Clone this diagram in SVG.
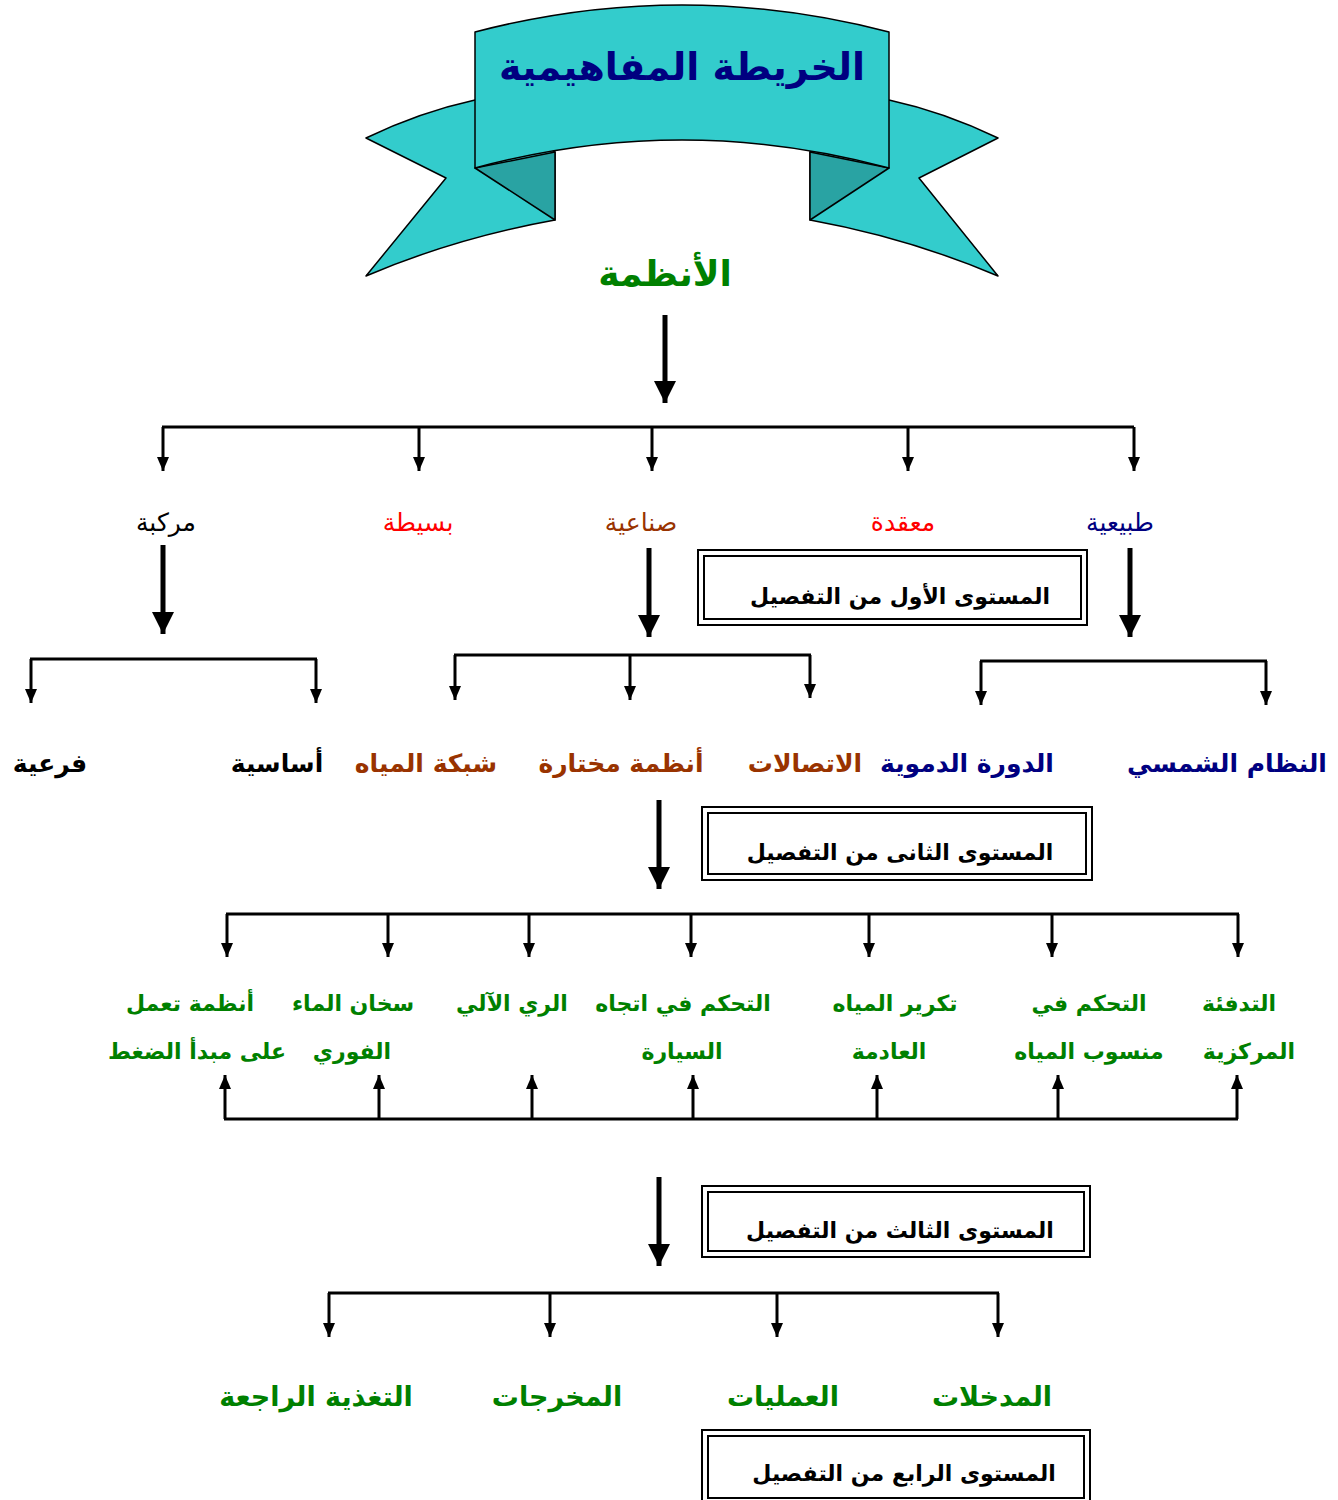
<svg xmlns="http://www.w3.org/2000/svg" width="1338" height="1500" viewBox="0 0 1338 1500">
<defs>
<style>
.t{font-family:"DejaVu Sans","Noto Sans",sans-serif;text-anchor:middle;direction:rtl}
.b{font-weight:bold}
.ln{stroke:#000;stroke-width:3;fill:none}
.ar{stroke:#000;stroke-width:3;fill:none;marker-end:url(#ah)}
.ak{stroke:#000;stroke-width:5;fill:none;marker-end:url(#ahk)}
.box{fill:#fff;stroke:#000;stroke-width:2}
.box2{fill:none;stroke:#000;stroke-width:2}
.rib{fill:#33CCCC;stroke:#000;stroke-width:1.5;stroke-linejoin:round}
.fold{fill:#29A3A3;stroke:#000;stroke-width:1.5;stroke-linejoin:round}
.g{fill:#008000}
.n{fill:#000080}
.br{fill:#993300}
.r{fill:#FF0000}
.k{fill:#000}
</style>
<marker id="ah" viewBox="0 0 14 12" refX="14" refY="6" markerWidth="14" markerHeight="12" markerUnits="userSpaceOnUse" orient="auto">
<path d="M0,0 L14,6 L0,12 Z" fill="#000"/>
</marker>
<marker id="ahk" viewBox="0 0 22 22" refX="22" refY="11" markerWidth="22" markerHeight="22" markerUnits="userSpaceOnUse" orient="auto">
<path d="M0,0 L22,11 L0,22 Z" fill="#000"/>
</marker>
</defs>
<rect width="1338" height="1500" fill="#fff"/>

<g id="banner">
<path class="rib" d="M475,100 Q420,112 366,138 L446,178 L366,276 Q455,238 555,220 L555,152 Z"/>
<path class="rib" d="M889,100 Q944,112 998,138 L919,178 L998,276 Q909,238 810,220 L810,152 Z"/>
<path class="fold" d="M475,168 L555,220 L555,152 Z"/>
<path class="fold" d="M889,168 L810,220 L810,152 Z"/>
<path class="rib" d="M475,32 Q682,-22 889,32 L889,168 Q682,112 475,168 Z"/>
<text class="t b n" x="682" y="80" font-size="38">الخريطة المفاهيمية</text>
</g>

<g id="root"><text class="t b g" x="665" y="286" font-size="36">الأنظمة</text></g>

<g id="connectors">
<line class="ak" x1="665" y1="315" x2="665" y2="403"/>
<line class="ln" x1="162" y1="427" x2="1134" y2="427"/>
<line class="ar" x1="163" y1="427" x2="163" y2="471"/>
<line class="ar" x1="419" y1="427" x2="419" y2="471"/>
<line class="ar" x1="652" y1="427" x2="652" y2="471"/>
<line class="ar" x1="908" y1="427" x2="908" y2="471"/>
<line class="ar" x1="1134" y1="427" x2="1134" y2="471"/>

<line class="ak" x1="163" y1="545" x2="163" y2="634"/>
<line class="ak" x1="649" y1="548" x2="649" y2="637"/>
<line class="ak" x1="1130" y1="548" x2="1130" y2="637"/>

<line class="ln" x1="30" y1="659" x2="317" y2="659"/>
<line class="ar" x1="31" y1="659" x2="31" y2="703"/>
<line class="ar" x1="316" y1="659" x2="316" y2="703"/>
<line class="ln" x1="454" y1="655" x2="811" y2="655"/>
<line class="ar" x1="455" y1="655" x2="455" y2="700"/>
<line class="ar" x1="630" y1="655" x2="630" y2="700"/>
<line class="ar" x1="810" y1="655" x2="810" y2="698"/>
<line class="ln" x1="980" y1="661" x2="1267" y2="661"/>
<line class="ar" x1="981" y1="661" x2="981" y2="705"/>
<line class="ar" x1="1266" y1="661" x2="1266" y2="705"/>

<line class="ak" x1="659" y1="800" x2="659" y2="889"/>

<line class="ln" x1="226" y1="914" x2="1239" y2="914"/>
<line class="ar" x1="227" y1="914" x2="227" y2="957"/>
<line class="ar" x1="388" y1="914" x2="388" y2="957"/>
<line class="ar" x1="529" y1="914" x2="529" y2="957"/>
<line class="ar" x1="691" y1="914" x2="691" y2="957"/>
<line class="ar" x1="869" y1="914" x2="869" y2="957"/>
<line class="ar" x1="1052" y1="914" x2="1052" y2="957"/>
<line class="ar" x1="1238" y1="914" x2="1238" y2="957"/>

<line class="ln" x1="224" y1="1119" x2="1238" y2="1119"/>
<line class="ar" x1="225" y1="1119" x2="225" y2="1075"/>
<line class="ar" x1="379" y1="1119" x2="379" y2="1075"/>
<line class="ar" x1="532" y1="1119" x2="532" y2="1075"/>
<line class="ar" x1="693" y1="1119" x2="693" y2="1075"/>
<line class="ar" x1="877" y1="1119" x2="877" y2="1075"/>
<line class="ar" x1="1058" y1="1119" x2="1058" y2="1075"/>
<line class="ar" x1="1237" y1="1119" x2="1237" y2="1075"/>

<line class="ak" x1="659" y1="1177" x2="659" y2="1266"/>

<line class="ln" x1="328" y1="1293" x2="999" y2="1293"/>
<line class="ar" x1="329" y1="1293" x2="329" y2="1337"/>
<line class="ar" x1="550" y1="1293" x2="550" y2="1337"/>
<line class="ar" x1="777" y1="1293" x2="777" y2="1337"/>
<line class="ar" x1="998" y1="1293" x2="998" y2="1337"/>
</g>

<g id="level1">
<text class="t k" x="166" y="531" font-size="25">مركبة</text>
<text class="t r" x="418" y="531" font-size="25">بسيطة</text>
<text class="t br" x="641" y="531" font-size="25">صناعية</text>
<text class="t r" x="903" y="531" font-size="25">معقدة</text>
<text class="t n" x="1120" y="531" font-size="25">طبيعية</text>
</g>

<g id="box1">
<rect class="box" x="698" y="550" width="389" height="75"/>
<rect class="box2" x="704" y="556" width="377" height="63"/>
<text class="t b k" x="900" y="604" font-size="22">المستوى الأول من التفصيل</text>
</g>

<g id="level2">
<text class="t b k" x="50" y="772" font-size="25">فرعية</text>
<text class="t b k" x="277" y="772" font-size="25">أساسية</text>
<text class="t b br" x="426" y="772" font-size="25">شبكة المياه</text>
<text class="t b br" x="621" y="772" font-size="25">أنظمة مختارة</text>
<text class="t b br" x="805" y="772" font-size="25">الاتصالات</text>
<text class="t b n" x="967" y="772" font-size="25">الدورة الدموية</text>
<text class="t b n" x="1227" y="772" font-size="25">النظام الشمسي</text>
</g>

<g id="box2">
<rect class="box" x="702" y="807" width="390" height="73"/>
<rect class="box2" x="708" y="813" width="378" height="61"/>
<text class="t b k" x="900" y="860" font-size="22">المستوى الثانى من التفصيل</text>
</g>

<g id="level3">
<text class="t b g" x="190" y="1011" font-size="22">أنظمة تعمل</text>
<text class="t b g" x="197" y="1059" font-size="22">على مبدأ الضغط</text>
<text class="t b g" x="353" y="1011" font-size="22">سخان الماء</text>
<text class="t b g" x="352" y="1059" font-size="22">الفوري</text>
<text class="t b g" x="512" y="1011" font-size="22">الري الآلي</text>
<text class="t b g" x="683" y="1011" font-size="22">التحكم في اتجاه</text>
<text class="t b g" x="682" y="1059" font-size="22">السيارة</text>
<text class="t b g" x="895" y="1011" font-size="22">تكرير المياه</text>
<text class="t b g" x="889" y="1059" font-size="22">العادمة</text>
<text class="t b g" x="1089" y="1011" font-size="22">التحكم في</text>
<text class="t b g" x="1089" y="1059" font-size="22">منسوب المياه</text>
<text class="t b g" x="1239" y="1011" font-size="22">التدفئة</text>
<text class="t b g" x="1249" y="1059" font-size="22">المركزية</text>
</g>

<g id="box3">
<rect class="box" x="702" y="1186" width="388" height="71"/>
<rect class="box2" x="708" y="1192" width="376" height="59"/>
<text class="t b k" x="900" y="1238" font-size="22">المستوى الثالث من التفصيل</text>
</g>

<g id="level4">
<text class="t b g" x="316" y="1406" font-size="27">التغذية الراجعة</text>
<text class="t b g" x="557" y="1406" font-size="27">المخرجات</text>
<text class="t b g" x="783" y="1406" font-size="27">العمليات</text>
<text class="t b g" x="992" y="1406" font-size="27">المدخلات</text>
</g>

<g id="box4">
<rect class="box" x="702" y="1430" width="388" height="72"/>
<rect class="box2" x="708" y="1436" width="376" height="62"/>
<text class="t b k" x="904" y="1481" font-size="22">المستوى الرابع من التفصيل</text>
</g>
</svg>
